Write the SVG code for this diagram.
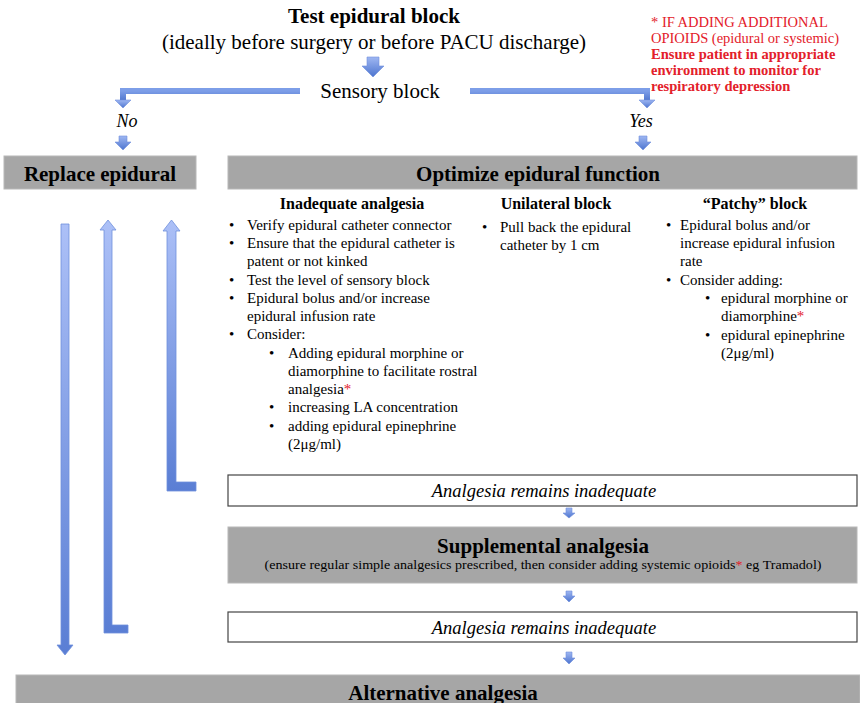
<svg xmlns="http://www.w3.org/2000/svg" width="860" height="703" viewBox="0 0 860 703">
<defs>
<linearGradient id="gv" x1="0" y1="0" x2="0" y2="1">
<stop offset="0" stop-color="#acc0f7"/>
<stop offset="1" stop-color="#5a7ed4"/>
</linearGradient>
<linearGradient id="gs" x1="0" y1="0" x2="0" y2="1">
<stop offset="0" stop-color="#9fb7f2"/>
<stop offset="1" stop-color="#4c74cf"/>
</linearGradient>
<linearGradient id="gh" x1="0" y1="0" x2="0" y2="1">
<stop offset="0" stop-color="#7d9ee8"/>
<stop offset="1" stop-color="#4f75cc"/>
</linearGradient>
</defs>
<style>
text{font-family:"Liberation Serif","Times New Roman",serif;fill:#000}
.t20{font-size:21px}
.b{font-weight:bold}
.i{font-style:italic}
.body{font-size:15px}
.h16{font-size:16px;font-weight:bold}
.red{fill:#e3202a}
.note{font-size:14.5px;fill:#e3202a}
.gray{fill:#a6a6a6;stroke:#b8b8b8;stroke-width:1}
.white{fill:#fff;stroke:#444;stroke-width:1.2}
.arr{fill:url(#gs);stroke:#6f8fdc;stroke-width:0.6}
.long{fill:url(#gv);stroke:#7090dc;stroke-width:0.8}
.conn{fill:none;stroke:url(#gh);stroke-width:6}
</style>

<g id="title">
<text class="t20 b" x="374" y="23" text-anchor="middle">Test epidural block</text>
<text class="t20" x="374" y="49" text-anchor="middle">(ideally before surgery or before PACU discharge)</text>
</g>

<g id="footnote">
<text class="note" x="651" y="27">* IF ADDING ADDITIONAL</text>
<text class="note" x="651" y="43">OPIOIDS (epidural or systemic)</text>
<text class="note b" x="651" y="59">Ensure patient in appropriate</text>
<text class="note b" x="651" y="75">environment to monitor for</text>
<text class="note b" x="651" y="91">respiratory depression</text>
</g>

<g id="sensory">
<text class="t20" x="380" y="98" text-anchor="middle">Sensory block</text>
</g>

<g id="labels">
<text class="i" x="127" y="127" text-anchor="middle" style="font-size:18px">No</text>
<text class="i" x="641" y="127" text-anchor="middle" style="font-size:18px">Yes</text>
</g>

<g id="replace">
<rect class="gray" x="4" y="156" width="192" height="33"/>
<text class="t20 b" x="100" y="181" text-anchor="middle">Replace epidural</text>
</g>

<g id="optimize">
<rect class="gray" x="228" y="156" width="629" height="33"/>
<text class="t20 b" x="538" y="181" text-anchor="middle">Optimize epidural function</text>
</g>

<g id="inadequate">
<text class="h16" x="352" y="209" text-anchor="middle">Inadequate analgesia</text>
<g class="body">
<text x="229" y="230">•</text><text x="247" y="230">Verify epidural catheter connector</text>
<text x="229" y="248">•</text><text x="247" y="248">Ensure that the epidural catheter is</text>
<text x="247" y="266">patent or not kinked</text>
<text x="229" y="285">•</text><text x="247" y="285">Test the level of sensory block</text>
<text x="229" y="303">•</text><text x="247" y="303">Epidural bolus and/or increase</text>
<text x="247" y="321">epidural infusion rate</text>
<text x="229" y="339">•</text><text x="247" y="339">Consider:</text>
<text x="269" y="358">•</text><text x="288" y="358">Adding epidural morphine or</text>
<text x="288" y="376">diamorphine to facilitate rostral</text>
<text x="288" y="394">analgesia<tspan class="red">*</tspan></text>
<text x="269" y="412">•</text><text x="288" y="412">increasing LA concentration</text>
<text x="269" y="431">•</text><text x="288" y="431">adding epidural epinephrine</text>
<text x="288" y="449">(2μg/ml)</text>
</g>
</g>

<g id="unilateral">
<text class="h16" x="556" y="209" text-anchor="middle">Unilateral block</text>
<g class="body">
<text x="482" y="232">•</text><text x="500" y="232">Pull back the epidural</text>
<text x="500" y="250">catheter by 1 cm</text>
</g>
</g>

<g id="patchy">
<text class="h16" x="755" y="209" text-anchor="middle">“Patchy” block</text>
<g class="body">
<text x="666" y="230">•</text><text x="680" y="230">Epidural bolus and/or</text>
<text x="680" y="248">increase epidural infusion</text>
<text x="680" y="266">rate</text>
<text x="666" y="285">•</text><text x="680" y="285">Consider adding:</text>
<text x="705" y="303">•</text><text x="721" y="303">epidural morphine or</text>
<text x="721" y="321">diamorphine<tspan class="red">*</tspan></text>
<text x="705" y="340">•</text><text x="721" y="340">epidural epinephrine</text>
<text x="721" y="358">(2μg/ml)</text>
</g>
</g>

<g id="remains1">
<rect class="white" x="228" y="475" width="629" height="31"/>
<text class="i" x="544" y="497" text-anchor="middle" style="font-size:18.5px">Analgesia remains inadequate</text>
</g>

<g id="supplemental">
<rect class="gray" x="228" y="527" width="629" height="56"/>
<text class="t20 b" x="543" y="553" text-anchor="middle">Supplemental analgesia</text>
<text x="543" y="569" text-anchor="middle" textLength="557" lengthAdjust="spacingAndGlyphs" style="font-size:13.5px">(ensure regular simple analgesics prescribed, then consider adding systemic opioids<tspan class="red">*</tspan> eg Tramadol)</text>
</g>

<g id="remains2">
<rect class="white" x="228" y="612" width="629" height="30"/>
<text class="i" x="544" y="634" text-anchor="middle" style="font-size:18.5px">Analgesia remains inadequate</text>
</g>

<g id="alternative">
<rect class="gray" x="16" y="675" width="844" height="40"/>
<text class="t20 b" x="443" y="700" text-anchor="middle">Alternative analgesia</text>
</g>

<g id="connectors">
<path class="arr" d="M367,57 H379 V66 H384 L373,77 L362,66 H367 Z"/>
<path class="conn" d="M300,91 H123 V101"/>
<path class="arr" d="M115,100 H131 L123,108 Z"/>
<path class="conn" d="M470,91 H647 V101"/>
<path class="arr" d="M639,100 H655 L647,108 Z"/>
<path class="arr" d="M119,136 H127 V142 H131 L123,150 L115,142 H119 Z"/>
<path class="arr" d="M639,136 H647 V142 H651 L643,150 L635,142 H639 Z"/>
<path class="long" d="M61,224 H69 V645 H73 L65,655 L57,645 H61 Z"/>
<path class="long" d="M128,625 V633 H104 V230 H100 L108,220 L116,230 H112 V625 Z"/>
<path class="long" d="M196,482 V491 H167 V231 H163 L171.5,220 L180,231 H176 V482 Z"/>
<path class="arr" d="M566,508 H572 V513 H575 L569,518 L563,513 H566 Z"/>
<path class="arr" d="M566,591 H572 V596 H575 L569,602 L563,596 H566 Z"/>
<path class="arr" d="M566,652 H572 V658 H575 L569,664 L563,658 H566 Z"/>
</g>
</svg>
